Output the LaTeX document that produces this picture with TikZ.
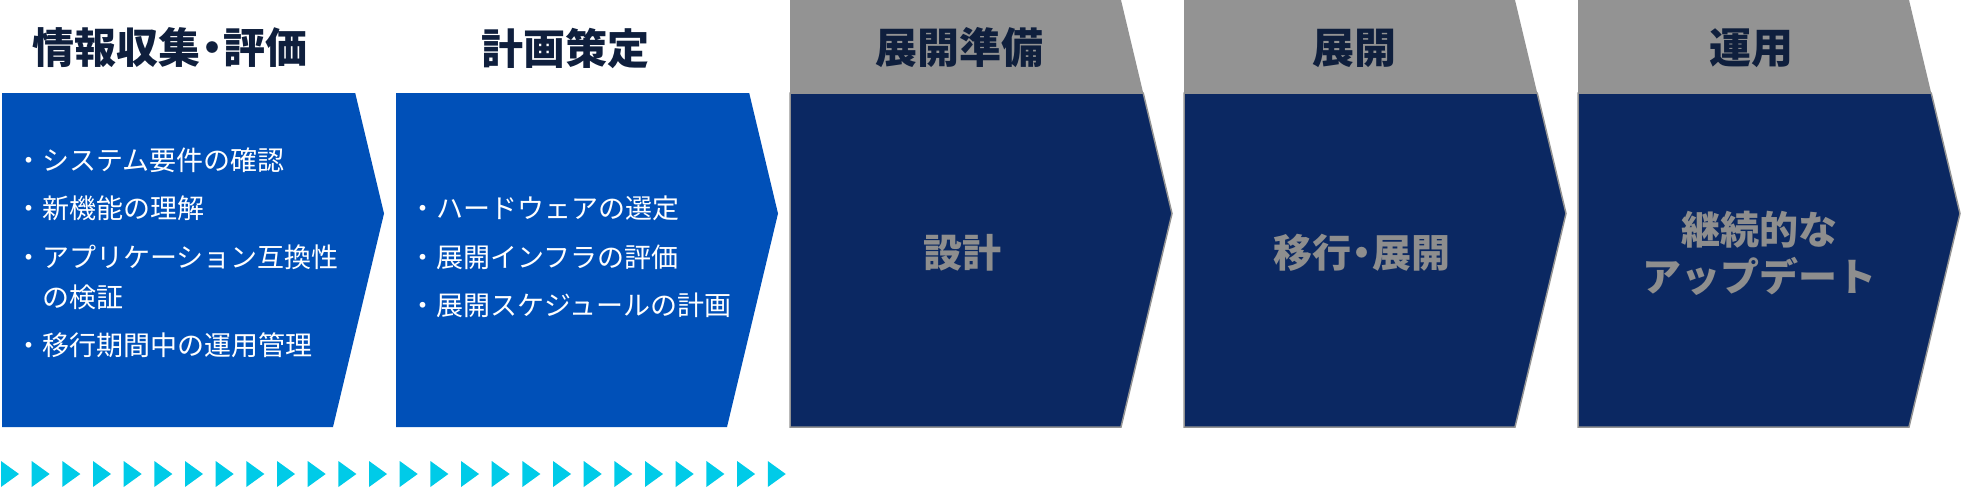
\documentclass[tikz,border=0pt]{standalone}
\usepackage{fontspec}
\newfontfamily\jpfont{Noto Sans CJK JP}
\definecolor{stepblue}{HTML}{0050B8}
\definecolor{stepnavy}{HTML}{0B2862}
\definecolor{stepgray}{HTML}{939393}
\definecolor{headink}{HTML}{0F1F3D}
\definecolor{bodyink}{HTML}{8E8E8E}
\definecolor{marker}{HTML}{00CBE8}
\newcommand{\tightdot}{\hspace{-0.22em}・\hspace{-0.22em}}
\begin{document}
\begin{tikzpicture}[x=1pt, y=-1pt,
  headtext/.style={font=\jpfont\bfseries\fontsize{42}{46}\selectfont, text=headink, inner sep=0},
  itemtext/.style={font=\jpfont\fontsize{27}{32}\selectfont, text=white, anchor=west, inner sep=0},
  phasetext/.style={font=\jpfont\bfseries\fontsize{39}{47}\selectfont, text=bodyink, align=center, inner sep=0}]
\useasboundingbox (0,0) rectangle (1962,488);
% blue chevrons
\fill[stepblue] (2,93) -- (355.2,93) -- (384,213.5) -- (333,427) -- (2,427) -- cycle;
\fill[stepblue] (396,93) -- (749.2,93) -- (778,213.5) -- (727,427) -- (396,427) -- cycle;
% navy chevrons with gray header
\fill[stepgray] (790,0) -- (1121,0) -- (1143.2,93) -- (790,93) -- cycle;
\filldraw[fill=stepnavy, draw=stepgray, line width=1.5] (790,93) -- (1143.2,93) -- (1172,213.5) -- (1121,427) -- (790,427) -- cycle;
\fill[stepgray] (1184,0) -- (1515,0) -- (1537.2,93) -- (1184,93) -- cycle;
\filldraw[fill=stepnavy, draw=stepgray, line width=1.5] (1184,93) -- (1537.2,93) -- (1566,213.5) -- (1515,427) -- (1184,427) -- cycle;
\fill[stepgray] (1578,0) -- (1909,0) -- (1931.2,93) -- (1578,93) -- cycle;
\filldraw[fill=stepnavy, draw=stepgray, line width=1.5] (1578,93) -- (1931.2,93) -- (1960,213.5) -- (1909,427) -- (1578,427) -- cycle;
% headings
\node[headtext] (h1) at (170,48) {情報収集\tightdot 評価};
\node[headtext] (h2) at (565,48) {計画策定};
\node[headtext] (h3) at (959,48) {展開準備};
\node[headtext] (h4) at (1354,48) {展開};
\node[headtext] (h5) at (1751,48) {運用};
% items
\node[itemtext] (i1a) at (15,160) {・システム要件の確認};
\node[itemtext] (i1b) at (15,208) {・新機能の理解};
\node[itemtext] (i1c) at (15,257) {・アプリケーション互換性};
\node[itemtext] (i1d) at (42,297) {の検証};
\node[itemtext] (i1e) at (15,345) {・移行期間中の運用管理};
\node[itemtext] (i2a) at (409,208) {・ハードウェアの選定};
\node[itemtext] (i2b) at (409,257) {・展開インフラの評価};
\node[itemtext] (i2c) at (409,305) {・展開スケジュールの計画};
% phase texts
\node[phasetext] (p3) at (962,253) {設計};
\node[phasetext] (p4) at (1362,253) {移行\tightdot 展開};
\node[phasetext] (p5) at (1759,253) {継続的な\\アップデート};
% markers
\foreach \k in {0,...,25}
  \fill[marker] (1+30.67*\k,461) -- (19+30.67*\k,474) -- (1+30.67*\k,487) -- cycle;
\end{tikzpicture}
\end{document}
